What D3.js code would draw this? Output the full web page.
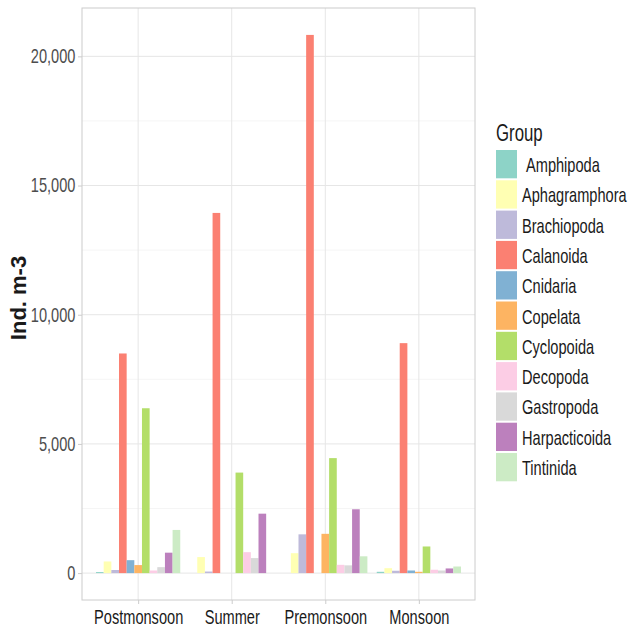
<!DOCTYPE html>
<html>
<head>
<meta charset="utf-8">
<script src="https://cdn.jsdelivr.net/npm/d3@7"></script>
<style>
  body { margin: 0; background: #fff; }
  svg { display: block; }
  text { font-family: "Liberation Sans", Arial, sans-serif; }
</style>
</head>
<body>
<div id="chart"></div>
<script>
// Seasons on the x axis
const seasons = ['Postmonsoon', 'Summer', 'Premonsoon', 'Monsoon'];

// Zooplankton groups (legend order)
const groups = ['Amphipoda', 'Aphagramphora', 'Brachiopoda', 'Calanoida', 'Cnidaria',
  'Copelata', 'Cyclopoida', 'Decopoda', 'Gastropoda', 'Harpacticoida', 'Tintinida'];

// Abundance (Ind. m-3) per group, one array per season
const postmonsoon = [40, 450, 120, 8500, 500, 310, 6380, 100, 230, 790, 1670];
const summer      = [0, 620, 60, 13940, 0, 0, 3890, 810, 580, 2300, 0];
const premonsoon  = [0, 770, 1500, 20830, 0, 1520, 4450, 320, 300, 2470, 650];
const monsoon     = [50, 190, 90, 8900, 100, 50, 1030, 130, 100, 180, 255];

const yTicks = [0, 5000, 10000, 15000, 20000];
const yMinor = [2500, 7500, 12500, 17500];

// ColorBrewer Set3
const palette = ['#8DD3C7', '#FFFFB3', '#BEBADA', '#FB8072', '#80B1D3', '#FDB462',
  '#B3DE69', '#FCCDE5', '#D9D9D9', '#BC80BD', '#CCEBC5'];

const width = 629, height = 632;
const panel = { left: 82, top: 8, right: 475, bottom: 600 };
const squeeze = 'scale(0.73,1)'; // the reference uses a condensed face

const seasonValues = [postmonsoon, summer, premonsoon, monsoon];
const rows = [];
seasons.forEach((s, i) => {
  groups.forEach((g, j) => rows.push({ season: s, group: g, value: seasonValues[i][j] }));
});

const svg = d3.select('#chart').append('svg')
  .attr('width', width)
  .attr('height', height);

// ggplot-like scales with expansion
const yMax = d3.max(rows, d => d.value);
const yPad = yMax * 0.05;
const y = d3.scaleLinear()
  .domain([-yPad, yMax + yPad])
  .range([panel.bottom, panel.top]);

const xOuter = d3.scalePoint()
  .domain(seasons)
  .range([panel.left, panel.right])
  .padding(0.6);

const step = xOuter.step();
const dodge = d3.scaleBand()
  .domain(groups)
  .range([-0.45 * step, 0.45 * step]);

const color = d3.scaleOrdinal().domain(groups).range(palette);

// Gridlines
const grid = svg.append('g');
grid.selectAll('line.minor')
  .data(yMinor)
  .join('line')
  .attr('class', 'minor')
  .attr('x1', panel.left).attr('x2', panel.right)
  .attr('y1', d => y(d)).attr('y2', d => y(d))
  .attr('stroke', '#f2f2f2').attr('stroke-width', 0.8);

grid.selectAll('line.major')
  .data(yTicks)
  .join('line')
  .attr('class', 'major')
  .attr('x1', panel.left).attr('x2', panel.right)
  .attr('y1', d => y(d)).attr('y2', d => y(d))
  .attr('stroke', '#e6e6e6').attr('stroke-width', 1);

grid.selectAll('line.vmajor')
  .data(seasons)
  .join('line')
  .attr('class', 'vmajor')
  .attr('x1', d => xOuter(d)).attr('x2', d => xOuter(d))
  .attr('y1', panel.top).attr('y2', panel.bottom)
  .attr('stroke', '#e6e6e6').attr('stroke-width', 1);

// Bars
svg.append('g')
  .selectAll('rect')
  .data(rows)
  .join('rect')
  .attr('x', d => xOuter(d.season) + dodge(d.group))
  .attr('width', dodge.bandwidth())
  .attr('y', d => y(d.value))
  .attr('height', d => y(0) - y(d.value))
  .attr('fill', d => color(d.group));

// Panel border
svg.append('rect')
  .attr('x', panel.left).attr('y', panel.top)
  .attr('width', panel.right - panel.left)
  .attr('height', panel.bottom - panel.top)
  .attr('fill', 'none')
  .attr('stroke', '#cccccc')
  .attr('stroke-width', 1);

// Axes
const yAxis = svg.append('g')
  .attr('transform', `translate(${panel.left},0)`)
  .call(d3.axisLeft(y).tickValues(yTicks).tickSize(4).tickFormat(d3.format(',')));
yAxis.select('.domain').remove();
yAxis.selectAll('.tick line').attr('stroke', '#cccccc');
yAxis.selectAll('.tick text')
  .attr('x', -9)
  .attr('transform', squeeze)
  .attr('font-size', 20)
  .attr('font-family', '"Liberation Sans", Arial, sans-serif')
  .attr('fill', '#4d4d4d');

const xAxis = svg.append('g')
  .attr('transform', `translate(0,${panel.bottom})`)
  .call(d3.axisBottom(xOuter).tickSize(4).tickPadding(6));
xAxis.select('.domain').remove();
xAxis.selectAll('.tick line').attr('stroke', '#cccccc');
xAxis.selectAll('.tick text')
  .attr('transform', squeeze)
  .attr('font-size', 20)
  .attr('font-family', '"Liberation Sans", Arial, sans-serif')
  .attr('fill', '#1a1a1a');

// Y axis title
svg.append('text')
  .attr('transform', `translate(26,${(panel.top + panel.bottom) / 2 - 6}) rotate(-90)`)
  .attr('text-anchor', 'middle')
  .attr('font-size', 22)
  .attr('font-weight', 'bold')
  .attr('fill', '#1a1a1a')
  .text('Ind. m-3');

// Legend
const legend = svg.append('g').attr('transform', 'translate(496,150)');
legend.append('text')
  .attr('transform', `translate(0,-9) ${squeeze}`)
  .attr('font-size', 23)
  .attr('fill', '#1a1a1a')
  .text('Group');

const keyH = 30.3;
const item = legend.selectAll('g.key')
  .data(groups)
  .join('g')
  .attr('class', 'key')
  .attr('transform', (d, i) => `translate(0,${i * keyH})`);

item.append('rect')
  .attr('x', 0).attr('y', 0)
  .attr('width', 21).attr('height', keyH - 2)
  .attr('fill', d => color(d));

item.append('text')
  .attr('transform', d => `translate(${d === 'Amphipoda' ? 30 : 26},22) ${squeeze}`)
  .attr('font-size', 20)
  .attr('fill', '#1a1a1a')
  .text(d => d);
</script>
</body>
</html>
